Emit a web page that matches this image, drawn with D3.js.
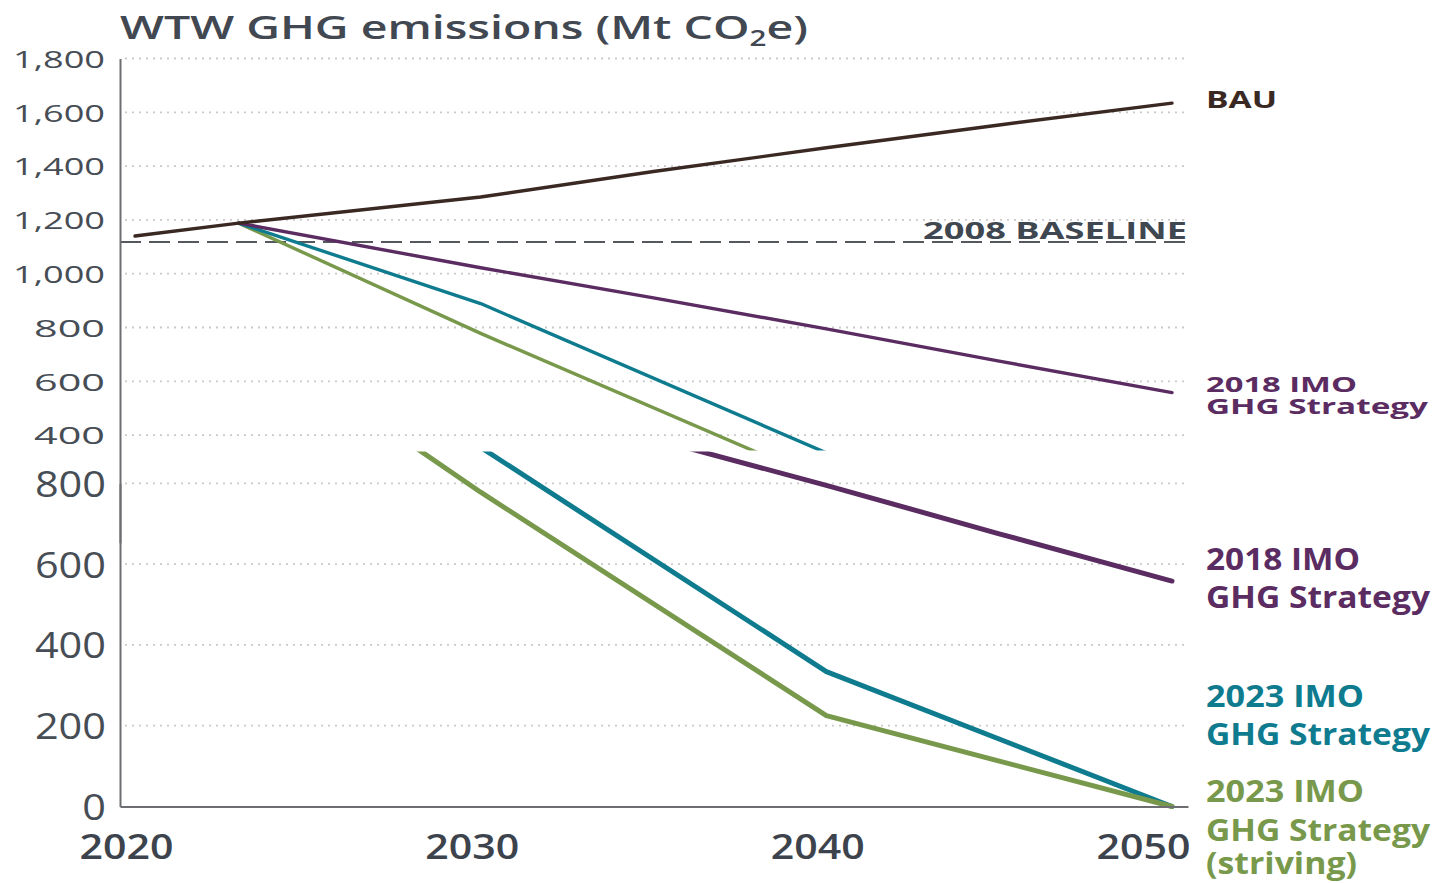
<!DOCTYPE html>
<html>
<head>
<meta charset="utf-8">
<script src="https://cdn.jsdelivr.net/npm/d3@7"></script>
<style>
  html, body { margin: 0; padding: 0; background: #fff; }
  svg { display: block; font-family: "Open Sans", "DejaVu Sans", sans-serif; }
</style>
</head>
<body>
<svg id="chart" width="1435" height="883"></svg>
<script>
// ---------------- DATA ----------------
const xTickYears = [2020, 2030, 2040, 2050];
const topTicks = [400, 600, 800, 1000, 1200, 1400, 1600, 1800];
const bottomTicks = [0, 200, 400, 600, 800];

const bauYears   = [2020, 2023, 2030, 2035, 2040, 2045, 2050];
const bauValues  = [1140, 1188, 1285, 1380, 1468, 1553, 1634];

const imo2018Years  = [2023, 2030, 2035, 2040, 2045, 2050];
const imo2018Values = [1188, 1022, 910, 795, 675, 558];

const imo2023Years  = [2023, 2030, 2040, 2050];
const imo2023Values = [1188, 889, 334, 0];

const strivingYears  = [2023, 2030, 2040, 2050];
const strivingValues = [1188, 778, 225, 0];

const baseline2008 = 1118;

const titleText = ["WTW GHG emissions (Mt CO", "2", "e)"];

// ---------------- SETUP ----------------
const W = 1435, H = 883;
const svg = d3.select("#chart");

const colors = {
  bau: "#3a2823",
  imo2018: "#5b2c62",
  imo2023: "#0f7b8f",
  striving: "#78994b",
  axis: "#6d6e71",
  grid: "#c9c9c9",
  text: "#474d55",
  baseline: "#55595e"
};

const x = d3.scaleLinear().domain([2019.566, 2050.463]).range([120, 1188]);
// top panel (upper image): 0..1800, visible part clipped at y=450
const yTop = d3.scaleLinear().domain([0, 1800]).range([542.7, 58.5]);
// bottom panel (zoomed image): 0..800
const yBot = d3.scaleLinear().domain([0, 800]).range([806.5, 483.3]);

const zip = (xs, vs) => xs.map((yr, i) => [yr, vs[i]]);
const series = [
  { key: "striving", data: zip(strivingYears, strivingValues) },
  { key: "imo2023",  data: zip(imo2023Years, imo2023Values) },
  { key: "imo2018",  data: zip(imo2018Years, imo2018Values) },
  { key: "bau",      data: zip(bauYears, bauValues) }
];

const defs = svg.append("defs");
defs.append("clipPath").attr("id", "clipTop")
  .append("rect").attr("x", 0).attr("y", 0).attr("width", W).attr("height", 450.5);
defs.append("clipPath").attr("id", "clipBot")
  .append("rect").attr("x", 0).attr("y", 451.5).attr("width", W).attr("height", H - 451.5);

function fitText(sel, len) {
  sel.attr("textLength", len).attr("lengthAdjust", "spacingAndGlyphs");
  return sel;
}

// ---------------- TITLE ----------------
const title = svg.append("text")
  .attr("x", 120).attr("y", 39)
  .attr("fill", "#414851")
  .attr("font-size", 33)
  .attr("font-weight", 600);
title.append("tspan").text(titleText[0]);
title.append("tspan").attr("font-size", 21).attr("dy", 7).text(titleText[1]);
title.append("tspan").attr("dy", -7).text(titleText[2]);
fitText(title, 688);

// ---------------- TOP PANEL ----------------
const topG = svg.append("g");
const topClip = topG.append("g").attr("clip-path", "url(#clipTop)");

// gridlines
topClip.append("g").selectAll("line")
  .data(topTicks)
  .join("line")
  .attr("x1", 125).attr("x2", 1188)
  .attr("y1", d => yTop(d)).attr("y2", d => yTop(d))
  .attr("stroke", colors.grid)
  .attr("stroke-width", 1.8)
  .attr("stroke-dasharray", "2,5");

// baseline
topClip.append("line")
  .attr("x1", 120).attr("x2", 1188)
  .attr("y1", yTop(baseline2008)).attr("y2", yTop(baseline2008))
  .attr("stroke", colors.baseline)
  .attr("stroke-width", 2)
  .attr("stroke-dasharray", "21,8");

// lines
const lineTop = d3.line().x(d => x(d[0])).y(d => yTop(d[1]));
topClip.append("g").selectAll("path")
  .data(series)
  .join("path")
  .attr("d", d => lineTop(d.data))
  .attr("fill", "none")
  .attr("stroke", d => colors[d.key])
  .attr("stroke-width", 3.4)
  .attr("stroke-linejoin", "round")
  .attr("stroke-linecap", "round");

// y axis top
const yAxisTop = d3.axisLeft(yTop)
  .tickValues(topTicks)
  .tickFormat(d3.format(","))
  .tickSize(0)
  .tickSizeOuter(0)
  .tickPadding(15);
const gyTop = topG.append("g").attr("transform", "translate(120,0)").call(yAxisTop);
gyTop.select(".domain").attr("stroke", colors.axis).attr("stroke-width", 2);
gyTop.selectAll(".tick text")
  .attr("fill", colors.text)
  .attr("font-size", 24.5)
  .attr("font-family", "\"Open Sans\", sans-serif")
  .attr("font-weight", 400)
  .attr("dy", "0.36em")
  .each(function(d) { fitText(d3.select(this), d >= 1000 ? 92 : 71); });

// labels top
fitText(topG.append("text")
  .attr("x", 1206).attr("y", 107.5)
  .attr("fill", colors.bau)
  .attr("font-size", 22.5).attr("font-weight", 700)
  .text("BAU"), 71);

fitText(topG.append("text")
  .attr("x", 923).attr("y", 239)
  .attr("fill", "#3f4751")
  .attr("font-size", 22.5).attr("font-weight", 700)
  .text("2008 BASELINE"), 264);

fitText(topG.append("text")
  .attr("x", 1206).attr("y", 392)
  .attr("fill", colors.imo2018)
  .attr("font-size", 21.5).attr("font-weight", 700)
  .text("2018 IMO"), 151);
fitText(topG.append("text")
  .attr("x", 1206).attr("y", 414)
  .attr("fill", colors.imo2018)
  .attr("font-size", 21.5).attr("font-weight", 700)
  .text("GHG Strategy"), 222);

// ---------------- BOTTOM PANEL ----------------
const botG = svg.append("g");
const botClip = botG.append("g").attr("clip-path", "url(#clipBot)");

botClip.append("g").selectAll("line")
  .data(bottomTicks.filter(d => d > 0))
  .join("line")
  .attr("x1", 125).attr("x2", 1188)
  .attr("y1", d => yBot(d)).attr("y2", d => yBot(d))
  .attr("stroke", colors.grid)
  .attr("stroke-width", 1.8)
  .attr("stroke-dasharray", "2,5");

const lineBot = d3.line().x(d => x(d[0])).y(d => yBot(d[1]));
const botSeries = [series[2], series[1], series[0]];
botClip.append("g").selectAll("path")
  .data(botSeries)
  .join("path")
  .attr("d", d => lineBot(d.data))
  .attr("fill", "none")
  .attr("stroke", d => colors[d.key])
  .attr("stroke-width", 5)
  .attr("stroke-linejoin", "round")
  .attr("stroke-linecap", "round");

// y axis bottom
const yAxisBot = d3.axisLeft(yBot)
  .tickValues(bottomTicks)
  .tickFormat(d3.format(","))
  .tickSize(0)
  .tickSizeOuter(0)
  .tickPadding(14);
const gyBot = botG.append("g").attr("transform", "translate(120,0)").call(yAxisBot);
gyBot.select(".domain").attr("stroke", colors.axis).attr("stroke-width", 2);
gyBot.selectAll(".tick text")
  .attr("fill", colors.text)
  .attr("font-size", 36)
  .attr("font-family", "\"Open Sans\", sans-serif")
  .attr("font-weight", 400)
  .attr("dy", "0.36em")
  .each(function(d) { fitText(d3.select(this), String(d).length * 23.7); });

// x axis
const xAxis = d3.axisBottom(x)
  .tickValues(xTickYears)
  .tickFormat(d3.format("d"))
  .tickSize(0)
  .tickSizeOuter(0)
  .tickPadding(0);
const gx = botG.append("g").attr("transform", `translate(0,${yBot(0)})`).call(xAxis);
gx.select(".domain").attr("stroke", colors.axis).attr("stroke-width", 2);
gx.selectAll(".tick text")
  .attr("fill", "#3d434c")
  .attr("font-size", 35)
  .attr("font-family", "\"Open Sans\", sans-serif")
  .attr("font-weight", 600)
  .attr("dy", null)
  .attr("y", 52)
  .attr("x", d => d === 2050 ? -29 : -9)
  .each(function() { fitText(d3.select(this), 94); });

// bottom labels
const botLabels = [
  { key: "imo2018",  lines: ["2018 IMO", "GHG Strategy"], ys: [570, 608], lens: [154, 224] },
  { key: "imo2023",  lines: ["2023 IMO", "GHG Strategy"], ys: [707, 745], lens: [158, 224] },
  { key: "striving", lines: ["2023 IMO", "GHG Strategy", "(striving)"], ys: [802, 841, 874], lens: [158, 224, 151] }
];
botLabels.forEach(lbl => {
  lbl.lines.forEach((t, i) => {
    fitText(botG.append("text")
      .attr("x", 1206).attr("y", lbl.ys[i])
      .attr("fill", colors[lbl.key])
      .attr("font-size", 31).attr("font-weight", 700)
      .text(t), lbl.lens[i]);
  });
});
</script>
</body>
</html>
